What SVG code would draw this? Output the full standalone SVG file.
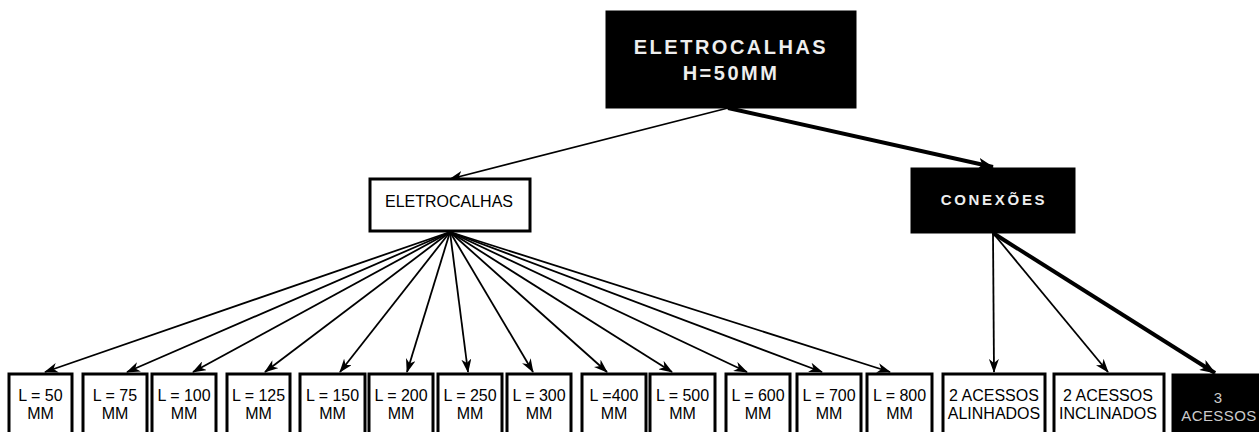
<svg xmlns="http://www.w3.org/2000/svg" width="1259" height="432" viewBox="0 0 1259 432">
<defs>
<marker id="ah" viewBox="0 0 14 10" refX="13" refY="5" markerWidth="14" markerHeight="10" markerUnits="userSpaceOnUse" orient="auto">
<path d="M0,0 L14,5 L0,10 L4,5 z" fill="#000"/>
</marker>
<marker id="ahb" viewBox="0 0 16 12" refX="15" refY="6" markerWidth="16" markerHeight="12" markerUnits="userSpaceOnUse" orient="auto">
<path d="M0,0 L16,6 L0,12 L4,6 z" fill="#000"/>
</marker>
<style>
.wb{fill:#fff;stroke:#000;stroke-width:3}
.bb{fill:#000;stroke:#000;stroke-width:1}
.t{font-family:"Liberation Sans",Arial,sans-serif;font-size:16px;fill:#000;text-anchor:middle}
.tw{font-family:"Liberation Sans",Arial,sans-serif;font-weight:bold;fill:#eee;text-anchor:middle}
.c{stroke:#000;stroke-width:1.8;fill:none;marker-end:url(#ah)}
.ck{stroke:#000;stroke-width:4;fill:none;marker-end:url(#ahb)}
</style>
</defs>
<rect width="1259" height="432" fill="#fff"/>
<g id="connectors">
<line class="c" x1="728" y1="108" x2="450" y2="179"/>
<line class="ck" x1="728" y1="108" x2="993" y2="167"/>
<line class="c" x1="450" y1="232" x2="45" y2="372"/>
<line class="c" x1="450" y1="232" x2="127" y2="372"/>
<line class="c" x1="450" y1="232" x2="193" y2="372"/>
<line class="c" x1="450" y1="232" x2="265" y2="372"/>
<line class="c" x1="450" y1="232" x2="340" y2="372"/>
<line class="c" x1="450" y1="232" x2="407" y2="372"/>
<line class="c" x1="450" y1="232" x2="468" y2="372"/>
<line class="c" x1="450" y1="232" x2="533" y2="372"/>
<line class="c" x1="450" y1="232" x2="607" y2="372"/>
<line class="c" x1="450" y1="232" x2="672" y2="372"/>
<line class="c" x1="450" y1="232" x2="747" y2="372"/>
<line class="c" x1="450" y1="232" x2="822" y2="372"/>
<line class="c" x1="450" y1="232" x2="890" y2="372"/>
<line class="c" x1="993" y1="233" x2="994" y2="372"/>
<line class="c" x1="993" y1="233" x2="1108" y2="372"/>
<line class="ck" x1="993" y1="233" x2="1215" y2="373"/>
</g>
<g id="n-top">
<rect class="bb" x="606" y="11" width="250" height="97"/>
<text class="tw" x="731" y="54" font-size="20" letter-spacing="2.5">ELETROCALHAS</text>
<text class="tw" x="731" y="80" font-size="20" letter-spacing="2.5">H=50MM</text>
</g>
<g id="n-eletrocalhas">
<rect class="wb" x="370" y="179" width="160" height="52" stroke-width="2.5"/>
<text class="t" x="449" y="207" font-size="17">ELETROCALHAS</text>
</g>
<g id="n-conexoes">
<rect class="bb" x="911" y="168" width="164" height="65"/>
<text class="tw" x="994" y="205" font-size="15" letter-spacing="2.7">CONEXÕES</text>
</g>
<g id="n-l50"><rect class="wb" x="9" y="374" width="63" height="70"/><text class="t" x="40.5" y="401">L = 50</text><text class="t" x="40.5" y="419">MM</text></g>
<g id="n-l75"><rect class="wb" x="83" y="374" width="64" height="70"/><text class="t" x="115" y="401">L = 75</text><text class="t" x="115" y="419">MM</text></g>
<g id="n-l100"><rect class="wb" x="152" y="374" width="64" height="70"/><text class="t" x="184" y="401">L = 100</text><text class="t" x="184" y="419">MM</text></g>
<g id="n-l125"><rect class="wb" x="227" y="374" width="63" height="70"/><text class="t" x="258.5" y="401">L = 125</text><text class="t" x="258.5" y="419">MM</text></g>
<g id="n-l150"><rect class="wb" x="300" y="374" width="65" height="70"/><text class="t" x="332.5" y="401">L = 150</text><text class="t" x="332.5" y="419">MM</text></g>
<g id="n-l200"><rect class="wb" x="369" y="374" width="64" height="70"/><text class="t" x="401" y="401">L = 200</text><text class="t" x="401" y="419">MM</text></g>
<g id="n-l250"><rect class="wb" x="438" y="374" width="64" height="70"/><text class="t" x="470" y="401">L = 250</text><text class="t" x="470" y="419">MM</text></g>
<g id="n-l300"><rect class="wb" x="507" y="374" width="64" height="70"/><text class="t" x="539" y="401">L = 300</text><text class="t" x="539" y="419">MM</text></g>
<g id="n-l400"><rect class="wb" x="582" y="374" width="64" height="70"/><text class="t" x="614" y="401">L =400</text><text class="t" x="614" y="419">MM</text></g>
<g id="n-l500"><rect class="wb" x="650" y="374" width="65" height="70"/><text class="t" x="682.5" y="401">L = 500</text><text class="t" x="682.5" y="419">MM</text></g>
<g id="n-l600"><rect class="wb" x="726" y="374" width="64" height="70"/><text class="t" x="758" y="401">L = 600</text><text class="t" x="758" y="419">MM</text></g>
<g id="n-l700"><rect class="wb" x="797" y="374" width="64" height="70"/><text class="t" x="829" y="401">L = 700</text><text class="t" x="829" y="419">MM</text></g>
<g id="n-l800"><rect class="wb" x="867" y="374" width="65" height="70"/><text class="t" x="899.5" y="401">L = 800</text><text class="t" x="899.5" y="419">MM</text></g>
<g id="n-alinhados"><rect class="wb" x="943" y="374" width="102" height="70"/><text class="t" x="994" y="401">2 ACESSOS</text><text class="t" x="994" y="419">ALINHADOS</text></g>
<g id="n-inclinados"><rect class="wb" x="1054" y="374" width="110" height="70"/><text class="t" x="1108" y="401">2 ACESSOS</text><text class="t" x="1108" y="419">INCLINADOS</text></g>
<g id="n-3acessos"><rect class="bb" x="1172" y="374" width="90" height="70"/><text class="t" x="1218" y="403" style="fill:#ccc;font-size:15px">3</text><text class="t" x="1219" y="421" style="fill:#ccc;font-size:15px" letter-spacing="0.4">ACESSOS</text></g>
</svg>
